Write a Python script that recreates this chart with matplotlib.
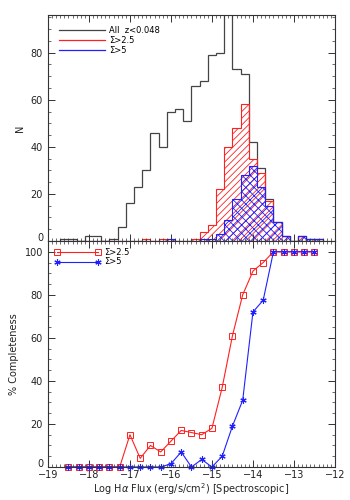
import numpy as np
import matplotlib
matplotlib.use('Agg')
import matplotlib.pyplot as plt
import matplotlib.transforms as mtransforms
from matplotlib.ticker import MultipleLocator

# histogram bins (log flux, width 0.2)
bin_start = -18.7
bin_width = 0.2
n_all = [1, 1, 0, 2, 2, 0, 1, 6, 16, 23, 30, 46, 40, 55, 56, 51, 66, 68, 79, 80,
         130, 73, 71, 42, 31, 18, 8, 2, 0, 2, 1, 1]
n_s25 = [0, 0, 0, 0, 0, 0, 0, 0, 0, 0, 1, 0, 1, 1, 0, 0, 1, 4, 7, 22,
         40, 48, 58, 35, 29, 17, 8, 2, 0, 2, 1, 1]
n_s5 = [0, 0, 0, 0, 0, 0, 0, 0, 0, 0, 0, 0, 0, 1, 0, 0, 0, 1, 1, 3,
        9, 18, 28, 32, 23, 15, 8, 2, 0, 2, 1, 1]

# completeness points (step 0.25)
comp_start = -18.5
comp_step = 0.25
comp_s25 = [0, 0, 0, 0, 0, 0, 15, 4, 10, 7, 12, 17, 16, 15, 18, 37, 61, 80, 91, 95,
            100, 100, 100, 100, 100]
comp_s5 = [0, 0, 0, 0, 0, 0, 0, 0, 0, 0, 1.5, 7, 0, 3.5, 0, 5, 19, 31, 72, 77.5,
           100, 100, 100, 100, 100]

edges = bin_start + bin_width * np.arange(len(n_all) + 1)
xc = comp_start + comp_step * np.arange(len(comp_s25))

plt.rcParams['hatch.linewidth'] = 0.6
plt.rcParams['font.size'] = 7
txt = '#222222'
red = '#ff2020'
blue = '#2020ff'

fig = plt.figure(figsize=(3.5, 5), dpi=100)
ax1 = fig.add_axes([0.137, 0.518, 0.82, 0.452])
ax2 = fig.add_axes([0.137, 0.066, 0.82, 0.452])

ax1.stairs(n_all, edges, color='#444444', lw=0.9, label='All  z<0.048')
ax1.stairs(n_s25, edges, fill=True, facecolor='none', edgecolor=red, hatch='/////', lw=0.8)
ax1.stairs(n_s5, edges, fill=True, facecolor='none', edgecolor=blue, hatch='xxxx', lw=0.8)
ax1.plot([], [], color=red, lw=0.9, label='Σ>2.5')
ax1.plot([], [], color=blue, lw=0.9, label='Σ>5')
ax1.set_xlim(-19, -12)
ax1.set_ylim(0, 96)
ax1.set_ylabel('N', color=txt, fontsize=7)
ax1.set_xticklabels([])
ax1.yaxis.set_major_locator(MultipleLocator(20))
ax1.yaxis.set_minor_locator(MultipleLocator(5))
ax1.legend(loc='upper left', frameon=False, fontsize=6, handlelength=5.5,
           labelspacing=0.1, borderaxespad=0.9, handletextpad=0.5)

star = (6, 2, 0)
ax2.plot(xc, comp_s25, color=red, lw=0.8, marker='s', mfc='none', mec=red, ms=4,
         mew=0.7, label='Σ>2.5', clip_on=False)
ax2.plot(xc, comp_s5, color=blue, lw=0.8, marker=star, mfc=blue, mec=blue, ms=4.5,
         mew=0.8, label='Σ>5', clip_on=False)
ax2.set_xlim(-19, -12)
ax2.set_ylim(0, 105)
ax2.set_ylabel('% Completeness', color=txt, fontsize=7)
ax2.set_xlabel(r'Log H$\alpha$ Flux (erg/s/cm$^2$) [Spectroscopic]', color=txt,
               fontsize=7, labelpad=0.5)
ax2.yaxis.set_major_locator(MultipleLocator(20))
ax2.yaxis.set_minor_locator(MultipleLocator(5))
ax2.legend(loc='upper left', frameon=False, fontsize=6, handlelength=5.5, numpoints=2,
           labelspacing=0.1, borderaxespad=0.4, handletextpad=0.5)

for ax in (ax1, ax2):
    ax.xaxis.set_major_locator(MultipleLocator(1))
    ax.xaxis.set_minor_locator(MultipleLocator(0.1))
    ax.tick_params(which='both', direction='in', top=True, right=True, colors='#333333',
                   labelcolor=txt, labelsize=7)
    ax.tick_params(which='major', length=5, width=0.7)
    ax.tick_params(which='minor', length=2.5, width=0.5)
    ax.tick_params(axis='x', pad=2.5)
    for s in ax.spines.values():
        s.set_color('#333333')
        s.set_linewidth(0.8)

# lift the "0" labels a little, as in the original
fig.canvas.draw()
shift = mtransforms.ScaledTranslation(0, 3 / 72, fig.dpi_scale_trans)
for ax in (ax1, ax2):
    for t in ax.get_yticklabels():
        if t.get_text() == '0':
            t.set_transform(t.get_transform() + shift)

fig.savefig('out.png', dpi=100)
